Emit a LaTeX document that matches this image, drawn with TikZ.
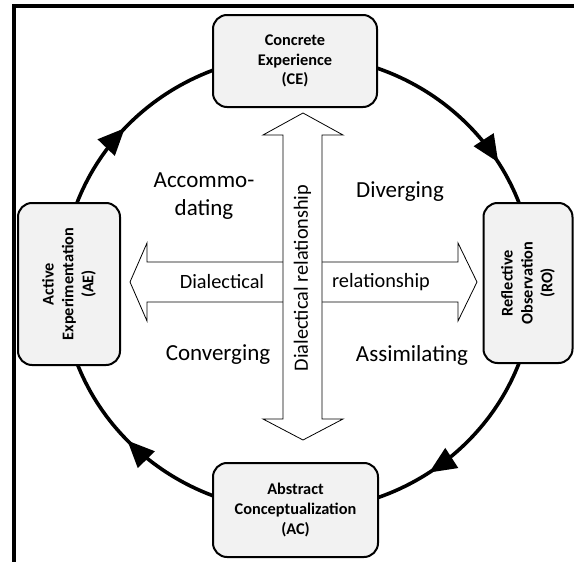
\documentclass[tikz,border=0pt]{standalone}
\usepackage{fontspec}
\setmainfont{Carlito}
\usetikzlibrary{arrows.meta,decorations.markings}
\definecolor{boxfill}{RGB}{242,242,242}
\begin{document}
\begin{tikzpicture}[x=1pt,y=-1pt,
  stagebox/.style={draw,line width=2pt,fill=boxfill,rounded corners=14pt,align=center,
    inner sep=2pt,font=\fontsize{16.3}{19.8}\selectfont\bfseries},
  ring/.style={line width=3.6pt},
  quad/.style={align=center,font=\fontsize{23}{28.5}\selectfont},
  arrlabel/.style={font=\fontsize{20.3}{24}\selectfont},
  bigarrow/.style={draw,line width=0.8pt,fill=white,line join=miter},
  mid/.style={postaction={decorate},decoration={markings,
    mark=at position #1 with {\arrow{Triangle[length=27pt,width=23pt]}}}}
]
\useasboundingbox (0,0) rectangle (574,562);
% frame
\draw[line width=4pt] (14,562) -- (14,5.5) -- (574,5.5);
% cycle (ellipse centre)
\coordinate (c) at (298,283);
\draw[ring,mid=0.65] (c) ++(0,-228) arc[start angle=-90,end angle=0,x radius=236,y radius=228];
\draw[ring,mid=0.62] (c) ++(236,0) arc[start angle=0,end angle=90,x radius=236,y radius=228];
\draw[ring,mid=0.52] (c) ++(0,228) arc[start angle=90,end angle=180,x radius=236,y radius=228];
\draw[ring,mid=0.47] (c) ++(-236,0) arc[start angle=180,end angle=270,x radius=236,y radius=228];
% stage boxes
\node[stagebox,minimum width=164pt,minimum height=92pt] (CE) at (295,61) {Concrete\\Experience\\(CE)};
\node[stagebox,minimum width=165pt,minimum height=94pt] (AC) at (295.5,510) {Abstract\\Conceptualization\\(AC)};
\node[stagebox,rotate=90,minimum width=162pt,minimum height=102pt] (AE) at (69,284) {Active\\Experimentation\\(AE)};
\node[stagebox,rotate=90,minimum width=160pt,minimum height=89pt] (RO) at (528,283) {Reflective\\Observation\\(RO)};
% horizontal double arrow
\draw[bigarrow] (130,282) -- (147,243) -- (147,262) -- (458,262) -- (458,243) -- (477,282)
  -- (458,321) -- (458,302) -- (147,302) -- (147,321) -- cycle;
% vertical double arrow
\draw[bigarrow] (303,113) -- (343,135) -- (322,135) -- (322,419) -- (343,419) -- (303,440)
  -- (263,419) -- (283,419) -- (283,135) -- (263,135) -- cycle;
% labels
\node[arrlabel] (dl) at (222,282) {Dialectical};
\node[arrlabel] (dr) at (381,282) {relationship};
\node[arrlabel,rotate=90] (dv) at (302.5,278) {Dialectical relationship};
\node[quad] (acc) at (204,196) {Accommo-\\dating};
\node[quad] (div) at (400,192) {Diverging};
\node[quad] (con) at (218,355) {Converging};
\node[quad] (ass) at (412,355) {Assimilating};
\end{tikzpicture}
\end{document}
